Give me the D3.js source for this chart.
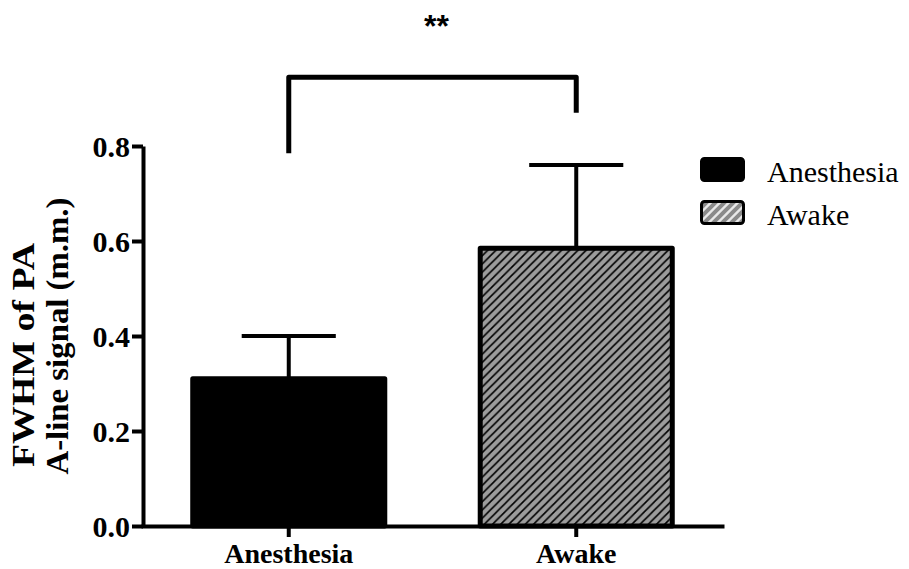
<!DOCTYPE html>
<html>
<head>
<meta charset="utf-8">
<script src="https://cdn.jsdelivr.net/npm/d3@7/dist/d3.min.js"></script>
<style>
  html, body { margin: 0; padding: 0; background: #fff; }
  svg { display: block; }
</style>
</head>
<body>
<svg id="chart" width="909" height="569"></svg>
<script>
// Group means with upper error (SD) for each condition
const categories = ["Anesthesia", "Awake"];
const means = [0.31, 0.585];
const errors = [0.09, 0.175];
const yTicks = [0, 0.2, 0.4, 0.6, 0.8];
const yTitleLines = ["FWHM of PA", "A-line signal (m.m.)"];
// Significance bracket: left foot, top, right foot (in axis units)
const bracketLevels = [0.785, 0.945, 0.87];
const sigLabel = "**";

const svg = d3.select("#chart");
const serif = '"Liberation Serif", "Times New Roman", serif';

const x = d3.scaleBand()
  .domain(categories)
  .range([143, 722])
  .paddingInner(0.332)
  .paddingOuter(0.173);

const y = d3.scaleLinear().domain([0, 0.8]).range([526, 146]);

// Hatch fill for the "Awake" bar
const defs = svg.append("defs");
const hatch = defs.append("pattern")
  .attr("id", "hatch")
  .attr("patternUnits", "userSpaceOnUse")
  .attr("width", 8.2).attr("height", 8.2);
hatch.append("rect").attr("width", 8.2).attr("height", 8.2).attr("fill", "#9c9c9c");
hatch.append("path")
  .attr("d", "M-2.05,2.05 L2.05,-2.05 M0,8.2 L8.2,0 M6.15,10.25 L10.25,6.15")
  .attr("stroke", "#000").attr("stroke-width", 1.6);

// Coarser stripes for the legend swatch
const hatchLegend = defs.append("pattern")
  .attr("id", "hatch-legend")
  .attr("patternUnits", "userSpaceOnUse")
  .attr("width", 9).attr("height", 9);
hatchLegend.append("rect").attr("width", 9).attr("height", 9).attr("fill", "#e8e8e8");
hatchLegend.append("path")
  .attr("d", "M-2.25,2.25 L2.25,-2.25 M0,9 L9,0 M6.75,11.25 L11.25,6.75")
  .attr("stroke", "#8a8a8a").attr("stroke-width", 4);

const fills = ["#000", "url(#hatch)"];
const legendFills = ["#000", "url(#hatch-legend)"];

// Error bars (upper only)
const capHalf = x.bandwidth() * 0.245;
const err = svg.append("g").attr("stroke", "#000").attr("stroke-width", 4);
categories.forEach((c, i) => {
  const cx = x(c) + x.bandwidth() / 2;
  const yTop = y(means[i] + errors[i]);
  err.append("line").attr("x1", cx).attr("x2", cx).attr("y1", y(means[i])).attr("y2", yTop);
  err.append("line").attr("x1", cx - capHalf).attr("x2", cx + capHalf).attr("y1", yTop).attr("y2", yTop);
});

// Bars
svg.append("g").selectAll("rect")
  .data(categories)
  .join("rect")
  .attr("x", d => x(d))
  .attr("width", x.bandwidth())
  .attr("y", (d, i) => y(means[i]))
  .attr("height", (d, i) => y(0) - y(means[i]))
  .attr("fill", (d, i) => fills[i])
  .attr("stroke", "#000")
  .attr("stroke-width", 5)
  .attr("stroke-linejoin", "round");

// Axes
const yAxis = svg.append("g")
  .attr("transform", "translate(143,0)")
  .call(d3.axisLeft(y).tickValues(yTicks).tickFormat(d3.format(".1f")).tickSize(11).tickSizeOuter(0).tickPadding(2));
yAxis.selectAll("path, line").attr("stroke", "#000").attr("stroke-width", 4);
yAxis.selectAll("text")
  .attr("dy", "0.34em")
  .attr("font-family", serif).attr("font-weight", "bold").attr("font-size", 30).attr("fill", "#000");

const xAxis = svg.append("g")
  .attr("transform", "translate(0,526)")
  .call(d3.axisBottom(x).tickSize(11).tickSizeOuter(0));
xAxis.selectAll("path, line").attr("stroke", "#000").attr("stroke-width", 4);
xAxis.selectAll("text")
  .attr("dy", null).attr("y", 37)
  .attr("font-family", serif).attr("font-weight", "bold").attr("font-size", 28).attr("fill", "#000");
xAxis.select(".domain").attr("stroke-linecap", "square");

// Y axis title (two lines, wide set)
const titleCenters = [355, 336];
const titleLengths = [224, 277];
yTitleLines.forEach((t, i) => {
  svg.append("text")
    .attr("transform", `translate(0,${titleCenters[i]}) rotate(-90)`)
    .attr("x", 0).attr("y", 34 + i * 34)
    .attr("text-anchor", "middle")
    .attr("textLength", titleLengths[i])
    .attr("lengthAdjust", "spacingAndGlyphs")
    .attr("font-family", serif).attr("font-weight", "bold").attr("font-size", 32)
    .attr("fill", "#000")
    .text(t);
});

// Significance bracket
const c0 = x(categories[0]) + x.bandwidth() / 2;
const c1 = x(categories[1]) + x.bandwidth() / 2;
svg.append("path")
  .attr("d", `M${c0},${y(bracketLevels[0])} V${y(bracketLevels[1])} H${c1} V${y(bracketLevels[2])}`)
  .attr("fill", "none").attr("stroke", "#000").attr("stroke-width", 5).attr("stroke-linejoin", "round");
svg.append("text")
  .attr("x", (c0 + c1) / 2 + 4).attr("y", y(bracketLevels[1]) - 40)
  .attr("text-anchor", "middle")
  .attr("font-family", '"Liberation Sans", Arial, sans-serif').attr("font-weight", "bold").attr("font-size", 32)
  .attr("fill", "#000")
  .text(sigLabel);

// Legend
const legend = svg.append("g").attr("transform", "translate(700,157)");
categories.forEach((c, i) => {
  const g = legend.append("g").attr("transform", `translate(0,${i * 43})`);
  g.append("rect")
    .attr("x", 1.5).attr("y", 1.5).attr("width", 42).attr("height", 22).attr("rx", 3)
    .attr("fill", legendFills[i]).attr("stroke", "#000").attr("stroke-width", 3);
  g.append("text")
    .attr("x", 67).attr("y", 25)
    .attr("font-family", serif).attr("font-size", 30).attr("fill", "#000")
    .text(c);
});
</script>
</body>
</html>
